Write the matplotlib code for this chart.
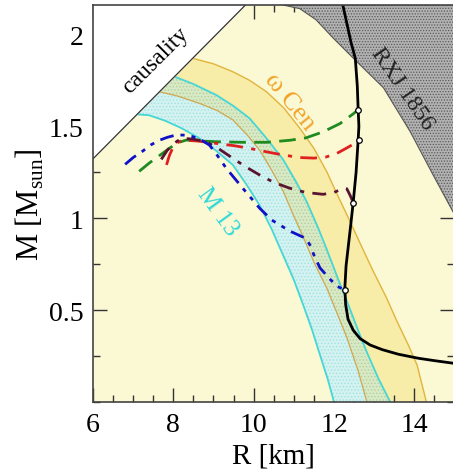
import matplotlib
matplotlib.use('Agg')
import matplotlib.pyplot as plt
import numpy as np
from matplotlib.patches import Polygon
from matplotlib.ticker import MultipleLocator

plt.rcParams['font.family'] = ['Liberation Serif', 'DejaVu Serif']
plt.rcParams['mathtext.fontset'] = 'custom'
plt.rcParams['mathtext.rm'] = 'Liberation Serif'
plt.rcParams['hatch.linewidth'] = 0.6

# ---------------- data ----------------
causality_slope = 0.2205          # M = slope * R

rx_R = [10.73, 11.15, 11.55, 11.98, 12.53, 13.23, 13.9, 14.48, 15.0]
rx_M = [2.16, 2.14, 2.08, 1.98, 1.86, 1.71, 1.47, 1.23, 1.02]

# M13 band edges (cyan)
C1_R = [7.1, 7.4, 7.8, 8.2, 8.65, 9.05, 9.48, 9.8, 10.15, 10.45, 10.73, 11.0, 11.23, 11.45, 11.65, 11.85, 12.0]
C1_M = [1.565, 1.56, 1.53, 1.49, 1.435, 1.37, 1.29, 1.19, 1.07, 0.94, 0.80, 0.665, 0.53, 0.395, 0.257, 0.12, 0.0]
C2_R = [8.03, 8.5, 9.07, 9.5, 9.9, 10.3, 10.73, 11.05, 11.32, 11.6, 11.82, 12.1, 12.32, 12.6, 12.82, 13.1, 13.4]
C2_M = [1.77, 1.73, 1.67, 1.61, 1.543, 1.44, 1.32, 1.2, 1.09, 0.95, 0.83, 0.67, 0.55, 0.39, 0.27, 0.13, 0.0]

# omega Cen band edges (orange)
O1_R = [7.65, 8.1, 8.65, 9.1, 9.48, 9.85, 10.15, 10.45, 10.73, 11.0, 11.23, 11.5, 11.82, 12.1, 12.32, 12.6, 12.82]
O1_M = [1.688, 1.665, 1.625, 1.585, 1.535, 1.45, 1.37, 1.26, 1.15, 1.01, 0.9, 0.76, 0.62, 0.47, 0.35, 0.17, 0.0]
O2_R = [8.48, 9.0, 9.48, 9.9, 10.32, 10.75, 11.15, 11.5, 11.82, 12.1, 12.4, 12.7, 12.98, 13.3, 13.57, 13.85, 14.07, 14.3]
O2_M = [1.87, 1.84, 1.797, 1.75, 1.688, 1.6, 1.489, 1.38, 1.253, 1.12, 0.982, 0.84, 0.71, 0.57, 0.438, 0.31, 0.2, 0.0]

# black solid curve
blk_R = [12.22, 12.32, 12.42, 12.53, 12.58, 12.6, 12.62, 12.6, 12.55, 12.48, 12.42, 12.36, 12.3, 12.27,
         12.29, 12.35, 12.48, 12.65, 12.9, 13.2, 13.6, 14.1, 14.5, 15.0]
blk_M = [2.16, 2.06, 1.96, 1.87, 1.72, 1.6, 1.5, 1.42, 1.25, 1.09, 0.97, 0.855, 0.74, 0.62,
         0.53, 0.45, 0.39, 0.345, 0.31, 0.285, 0.26, 0.238, 0.225, 0.21]

# EOS curves
g_R = [7.15, 7.4, 7.65, 7.9, 8.1, 8.32, 8.7, 9.07, 9.7, 10.32, 10.9, 11.3, 11.73, 12.15, 12.48, 12.6]
g_M = [1.255, 1.30, 1.34, 1.38, 1.41, 1.425, 1.42, 1.416, 1.413, 1.413, 1.424, 1.437, 1.47, 1.515, 1.568, 1.59]

r_R = [7.83, 7.9, 7.98, 8.1, 8.23, 8.6, 9.07, 9.5, 9.9, 10.3, 10.73, 11.15, 11.5, 11.8, 12.05, 12.3, 12.5, 12.62]
r_M = [1.29, 1.34, 1.38, 1.41, 1.425, 1.42, 1.407, 1.395, 1.38, 1.362, 1.344, 1.33, 1.327, 1.333, 1.35, 1.38, 1.405, 1.425]

m_R = [7.7, 7.85, 7.98, 8.1, 8.23, 8.5, 8.82, 9.15, 9.48, 9.8, 10.15, 10.5, 10.9, 11.3, 11.73, 12.0, 12.23, 12.32, 12.4, 12.48]
m_M = [1.32, 1.37, 1.40, 1.42, 1.435, 1.43, 1.416, 1.375, 1.326, 1.28, 1.235, 1.195, 1.163, 1.14, 1.13, 1.14, 1.163, 1.16, 1.125, 1.085]

b_R = [6.8, 7.0, 7.23, 7.45, 7.65, 7.85, 8.07, 8.3, 8.48, 8.7, 8.9, 9.1, 9.32, 9.73, 10.15, 10.45,
       10.9, 11.1, 11.3, 11.4, 11.5, 11.65, 11.85, 12.07, 12.27]
b_M = [1.293, 1.33, 1.364, 1.40, 1.424, 1.44, 1.453, 1.452, 1.444, 1.425, 1.398, 1.34, 1.271, 1.163, 1.054, 0.99,
       0.93, 0.91, 0.89, 0.855, 0.8, 0.73, 0.68, 0.63, 0.61]

xticks = [6, 8, 10, 12, 14]
yticks = [0.5, 1, 1.5, 2]
ytick_labels = ['0.5', '1', '1.5', '2']

# ---------------- figure ----------------
fig = plt.figure(figsize=(4.53, 4.77), dpi=100)
ax = fig.add_axes([93 / 453, 74 / 477, 361.5 / 453, 397 / 477])
ax.set_xlim(6, 15)
ax.set_ylim(0, 2.16)
ax.set_facecolor('#fbf8d4')

# omega Cen band
om_poly = np.column_stack([O2_R + O1_R[::-1], O2_M + O1_M[::-1]])
om_patch = Polygon(om_poly, closed=True, facecolor='#f7eca8', edgecolor='none', zorder=1)
ax.add_patch(om_patch)

# M13 band
m13_poly = np.column_stack([C2_R + C1_R[::-1], C2_M + C1_M[::-1]])
ax.add_patch(Polygon(m13_poly, closed=True, facecolor='#d4f2f0', edgecolor='#9fe3e6',
                     hatch='.....', linewidth=0, zorder=2))
ov = Polygon(m13_poly, closed=True, facecolor='#d8e9c6', edgecolor='#b2cf9a',
             hatch='.....', linewidth=0, zorder=3)
ax.add_patch(ov)
ov.set_clip_path(om_patch)

# band edges
ax.plot(O1_R, O1_M, color='#cfa850', lw=0.9, zorder=4)
ax.plot(O2_R, O2_M, color='#e2b43c', lw=1.0, zorder=4)
ax.plot(C1_R, C1_M, color='#45d6d6', lw=1.3, zorder=4)
ax.plot(C2_R, C2_M, color='#45d6d6', lw=1.3, zorder=4)

# causality region
Rc = np.array([5.0, 16.0])
ax.fill_between(Rc, causality_slope * Rc, 3.0, color='white', zorder=5, lw=0)
ax.plot(Rc, causality_slope * Rc, color='#333333', lw=0.9, zorder=6)

# RX J1856 region
rx_poly = np.column_stack([rx_R + [15.5, 15.5, rx_R[0]], rx_M + [rx_M[-1], 2.5, 2.5]])
ax.add_patch(Polygon(rx_poly, closed=True, facecolor='#b2b2b2', edgecolor='#5a5a5a',
                     hatch='......', linewidth=0, zorder=5))
ax.plot(rx_R, rx_M, color='#555555', lw=0.8, zorder=6)

# EOS curves
ax.plot(g_R, g_M, color='#1f8a1f', lw=2.0, dashes=(6, 3), zorder=7)
ax.plot(r_R, r_M, color='#e02020', lw=2.0, dashes=(6, 3, 1.5, 3), zorder=7)
ax.plot(m_R, m_M, color='#5a1430', lw=2.0, dashes=(5, 3, 1.5, 3), zorder=7)
ax.plot(b_R, b_M, color='#1010c8', lw=2.0, dashes=(5, 2.5, 1.5, 2.5, 1.5, 2.5), zorder=7)

ax.plot(blk_R, blk_M, color='black', lw=2.0, zorder=8)
ends_R = [g_R[-1], r_R[-1], m_R[-1], b_R[-1]]
ends_M = [g_M[-1], r_M[-1], m_M[-1], b_M[-1]]
ax.plot(ends_R, ends_M, 'o', ms=4, mfc='white', mec='black', mew=0.9, zorder=9)

# labels in plot
ax.text(7.55, 1.86, 'causality', rotation=45, ha='center', va='center',
        rotation_mode='anchor', fontsize=17, color='black', zorder=10)
ax.text(13.7, 1.71, 'RXJ 1856', rotation=-55.5, ha='center', va='center',
        rotation_mode='anchor', fontsize=17, color='#222222', zorder=10)
ax.text(10.9, 1.636, 'ω Cen', rotation=-51, ha='center', va='center',
        rotation_mode='anchor', fontsize=19, color='#f0a428', zorder=10)
ax.text(9.1, 1.04, 'M 13', rotation=-54, ha='center', va='center',
        rotation_mode='anchor', fontsize=18, color='#2fd8d8', zorder=10)

# axes styling
ax.set_xticks(xticks)
ax.set_yticks(yticks)
ax.set_yticklabels(ytick_labels)
ax.xaxis.set_minor_locator(MultipleLocator(0.5))
ax.yaxis.set_minor_locator(MultipleLocator(0.25))
ax.tick_params(which='both', direction='in', top=True, right=True, color='#333333', width=1.0)
ax.tick_params(which='major', length=10, labelsize=20, pad=7)
ax.tick_params(which='minor', length=5)
for s in ax.spines.values():
    s.set_color('#444444')
    s.set_linewidth(1.2)
    s.set_zorder(20)

ax.set_xlabel('R [km]', fontsize=21, labelpad=4)
ax.set_ylabel(r'M [M$_{\rm sun}$]', fontsize=22, labelpad=2)

fig.savefig('out.png', dpi=100)
